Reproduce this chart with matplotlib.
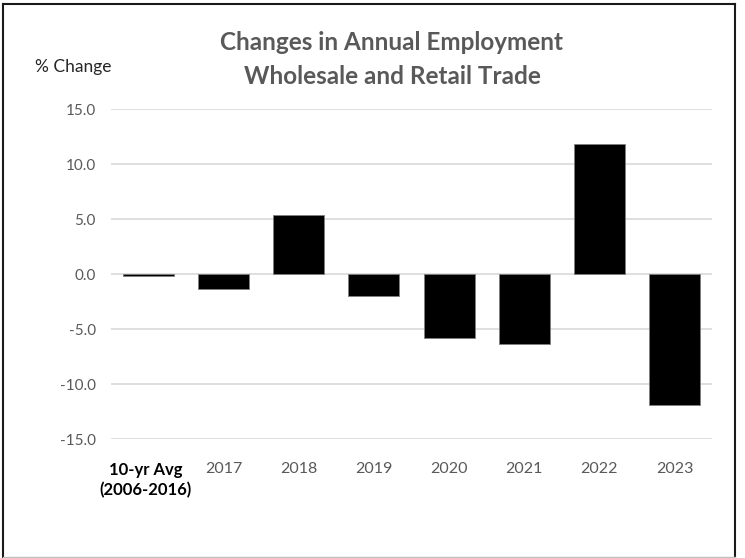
import matplotlib
matplotlib.use('agg')
import matplotlib.pyplot as plt
from matplotlib.lines import Line2D

categories = ["10-yr Avg\n(2006-2016)", "2017", "2018", "2019", "2020", "2021", "2022", "2023"]
changes = [-0.2, -1.3, 5.4, -2.0, -5.8, -6.3, 11.8, -11.9]
y_ticks = [15.0, 10.0, 5.0, 0.0, -5.0, -10.0, -15.0]

W, H = 745, 558
fig = plt.figure(figsize=(W / 100, H / 100), dpi=100)
plt.rcParams['font.family'] = ['Lato', 'DejaVu Sans']

ax = fig.add_axes([111 / W, 1 - 439.3 / H, 601 / W, 330 / H])
x = list(range(len(categories)))
ax.bar(x, changes, width=0.68, color='black', edgecolor='#7f7f7f', linewidth=0.6, zorder=3)

ax.set_xlim(-0.5, len(categories) - 0.5)
ax.set_ylim(-15, 15)
ax.set_yticks(y_ticks)
ax.set_yticklabels([f"{v:.1f}" for v in y_ticks], color='#595959', fontsize=11)
ax.tick_params(axis='y', length=0, pad=11)
ax.yaxis.grid(True, color='#d9d9d9', linewidth=1.2, zorder=0)
for s in ax.spines.values():
    s.set_visible(False)

# x labels drawn below the -15 line
ax.set_xticks(x)
ax.set_xticklabels([])
ax.tick_params(axis='x', length=0)
for i, lab in enumerate(categories):
    if i == 0:
        ax.annotate(lab, (i, -15), xytext=(-2, -16), textcoords='offset points',
                    ha='center', va='top', fontsize=12, fontweight='bold',
                    color='black', linespacing=1.35, annotation_clip=False)
    else:
        ax.annotate(lab, (i, -15), xytext=(0, -16), textcoords='offset points',
                    ha='center', va='top', fontsize=11.5, color='#595959',
                    annotation_clip=False)

fig.text(392 / W, 1 - 43 / H, "Changes in Annual Employment", ha='center', va='center',
         fontsize=17.5, fontweight='bold', color='#595959')
fig.text(392 / W, 1 - 77 / H, "Wholesale and Retail Trade", ha='center', va='center',
         fontsize=17.5, fontweight='bold', color='#595959')
fig.text(35 / W, 1 - 67 / H, "% Change", ha='left', va='center', fontsize=12.5, color='#262626')

# outer frame
fig.add_artist(Line2D([2.5 / W, 2.5 / W], [1 - 3.5 / H, 1 - 557 / H], color='#1a1a1a', lw=1.5))
fig.add_artist(Line2D([2.5 / W, 734.5 / W], [1 - 3.5 / H, 1 - 3.5 / H], color='#1a1a1a', lw=1.5))
fig.add_artist(Line2D([734.5 / W, 734.5 / W], [1 - 3.5 / H, 1 - 557 / H], color='#1a1a1a', lw=1.5))
fig.add_artist(Line2D([2.5 / W, 734.5 / W], [1 - 556.5 / H, 1 - 556.5 / H], color='#bfbfbf', lw=1))

fig.savefig('out.png', dpi=100)
